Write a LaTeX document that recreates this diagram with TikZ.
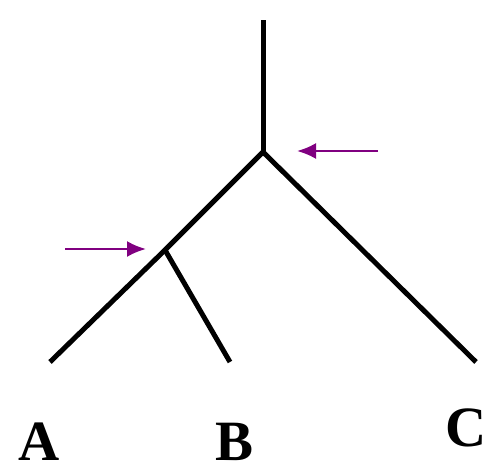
\documentclass[tikz,border=0pt]{standalone}
\usepackage{fontspec}
\setmainfont{Liberation Serif}
\usetikzlibrary{arrows.meta}
\definecolor{markpurple}{HTML}{800080}

\begin{document}
\begin{tikzpicture}[x=1pt,y=-1pt,
        branch/.style={line width=5pt,black},
        pointer/.style={-{Latex[length=19pt,width=16pt]},line width=2.4pt,markpurple},
        leaf/.style={font=\fontsize{57}{60}\selectfont\bfseries,inner sep=0pt,
                     anchor=base,text depth=0pt}]
      \useasboundingbox (0,0) rectangle (491,469);
      % tree
      \coordinate (top) at (263,20);
      \coordinate (r) at (263,152);
      \coordinate (ab) at (165,250);
      \coordinate (a) at (50,362);
      \coordinate (b) at (230,362);
      \coordinate (c) at (476,362);
      \draw[branch](top)--(r);
      \draw[branch](r)--(c);
      \draw[branch](r)--(ab)--(a);
      \draw[branch](ab)--(b);
      % labels
      \node[leaf](la) at(39,460){A};
      \node[leaf](lb) at(235,460){B};
      \node[leaf](lc) at(466,446){C};
      % arrows to the inner nodes
      \coordinate (p1) at (378,151);
      \coordinate (q1) at (297,151);
      \coordinate (p2) at (65,249);
      \coordinate (q2) at (146,249);
      \draw[pointer](p1)--(q1);
      \draw[pointer](p2)--(q2);
    \end{tikzpicture}
\end{document}
